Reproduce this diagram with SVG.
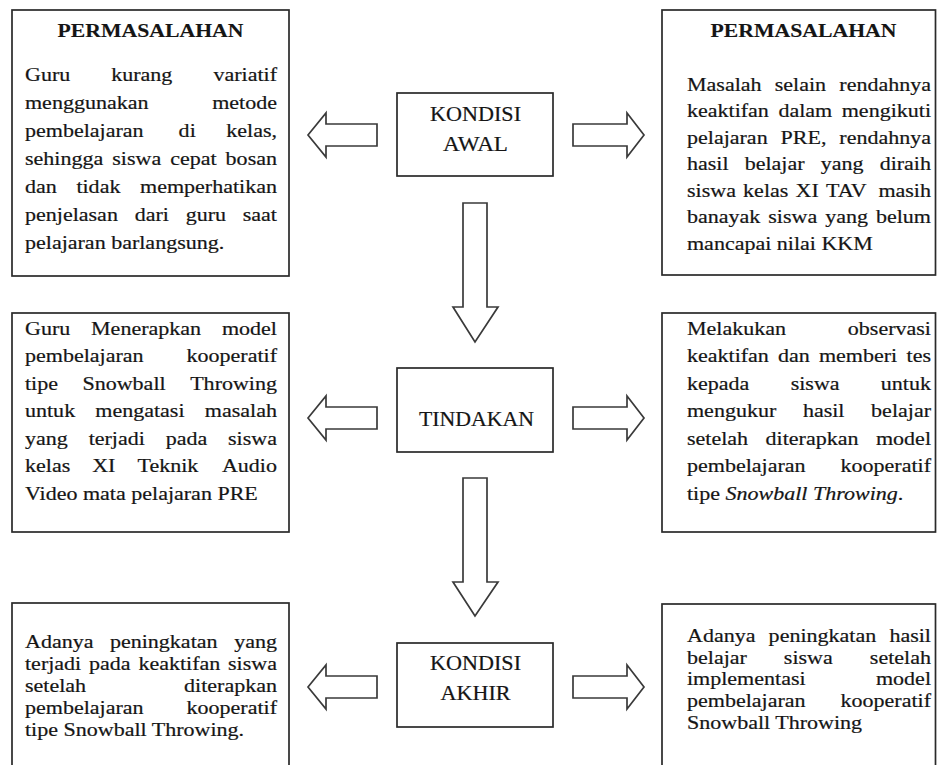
<svg xmlns="http://www.w3.org/2000/svg" width="937" height="765" viewBox="0 0 937 765">
<style>
.box{fill:#fff;stroke:#2a2a2a;stroke-width:1.7}
.arr{fill:#fff;stroke:#3a3a3a;stroke-width:1.7;stroke-linejoin:miter}
.t{font-family:"Liberation Serif","Times New Roman",serif;font-size:18.5px;fill:#151515;stroke:#151515;stroke-width:0.2}
.h{font-weight:bold;text-anchor:middle;stroke-width:0.1}
.c{font-family:"Liberation Serif","Times New Roman",serif;font-size:21px;fill:#151515;stroke:#151515;stroke-width:0.2;text-anchor:middle}
.e{text-anchor:end}
</style>
<rect width="937" height="765" fill="#fff"/>

<g id="connectors">
<polygon class="arr" points="308,135 326,113 326,124 377,124 377,146 326,146 326,157"/>
<polygon class="arr" points="573,124 627,124 627,113 644,135 627,157 627,146 573,146"/>
<polygon class="arr" points="463,203 487,203 487,307 498,307 475,342 453,307 463,307"/>
<polygon class="arr" points="308,418 326,396 326,407 377,407 377,429 326,429 326,440"/>
<polygon class="arr" points="573,407 627,407 627,396 644,418 627,440 627,429 573,429"/>
<polygon class="arr" points="463,478 487,478 487,582 498,582 475,616 453,582 463,582"/>
<polygon class="arr" points="308,687 326,665 326,676 377,676 377,698 326,698 326,709"/>
<polygon class="arr" points="573,676 627,676 627,665 644,687 627,709 627,698 573,698"/>
</g>

<g id="kondisi-awal">
<rect class="box" x="397" y="93" width="156" height="83"/>
<text class="c" x="475.5" y="121" textLength="91" lengthAdjust="spacingAndGlyphs">KONDISI</text>
<text class="c" x="475.5" y="151" textLength="65" lengthAdjust="spacingAndGlyphs">AWAL</text>
</g>

<g id="tindakan">
<rect class="box" x="397" y="368" width="156" height="84"/>
<text class="c" x="476.5" y="426" textLength="115" lengthAdjust="spacingAndGlyphs">TINDAKAN</text>
</g>

<g id="kondisi-akhir">
<rect class="box" x="397" y="643" width="156" height="84"/>
<text class="c" x="475.5" y="670" textLength="91" lengthAdjust="spacingAndGlyphs">KONDISI</text>
<text class="c" x="475.5" y="700" textLength="70" lengthAdjust="spacingAndGlyphs">AKHIR</text>
</g>

<g id="permasalahan-kiri">
<rect class="box" x="12" y="10" width="277" height="266"/>
<text class="t h" x="150.5" y="37" textLength="186" lengthAdjust="spacingAndGlyphs">PERMASALAHAN</text>
<g transform="translate(25 0) scale(1.19 1)">
<text class="t" y="81"><tspan x="0">Guru</tspan><tspan x="72.5">kurang</tspan><tspan class="e" x="211.76">variatif</tspan></text>
<text class="t" y="109"><tspan x="0">menggunakan</tspan><tspan class="e" x="211.76">metode</tspan></text>
<text class="t" y="137"><tspan x="0">pembelajaran</tspan><tspan x="129.1">di</tspan><tspan class="e" x="211.76">kelas,</tspan></text>
<text class="t" y="165"><tspan x="0">sehingga</tspan><tspan x="73.35">siswa</tspan><tspan x="122">cepat</tspan><tspan class="e" x="211.76">bosan</tspan></text>
<text class="t" y="193"><tspan x="0">dan</tspan><tspan x="43.2">tidak</tspan><tspan class="e" x="211.76">memperhatikan</tspan></text>
<text class="t" y="221"><tspan x="0">penjelasan</tspan><tspan x="92.15">dari</tspan><tspan x="135">guru</tspan><tspan class="e" x="211.76">saat</tspan></text>
<text class="t" x="0" y="249">pelajaran barlangsung.</text>
</g>
</g>

<g id="permasalahan-kanan">
<rect class="box" x="662" y="10" width="273.5" height="265"/>
<text class="t h" x="803.5" y="37" textLength="186" lengthAdjust="spacingAndGlyphs">PERMASALAHAN</text>
<g transform="translate(687 0) scale(1.19 1)">
<text class="t" y="91"><tspan x="0">Masalah</tspan><tspan x="73.7">selain</tspan><tspan class="e" x="205.04">rendahnya</tspan></text>
<text class="t" y="117.5"><tspan x="0">keaktifan</tspan><tspan x="76.8">dalam</tspan><tspan class="e" x="205.04">mengikuti</tspan></text>
<text class="t" y="144"><tspan x="0">pelajaran</tspan><tspan x="78.6">PRE,</tspan><tspan class="e" x="205.04">rendahnya</tspan></text>
<text class="t" y="170.5"><tspan x="0">hasil</tspan><tspan x="48.45">belajar</tspan><tspan x="112.3">yang</tspan><tspan class="e" x="205.04">diraih</tspan></text>
<text class="t" y="197"><tspan x="0">siswa</tspan><tspan x="47.16">kelas</tspan><tspan x="91.2">XI</tspan><tspan x="116.8">TAV</tspan><tspan class="e" x="205.04">masih</tspan></text>
<text class="t" y="223.5"><tspan x="0">banayak</tspan><tspan x="68.3">siswa</tspan><tspan x="116.1">yang</tspan><tspan class="e" x="205.04">belum</tspan></text>
<text class="t" x="0" y="250">mancapai nilai KKM</text>
</g>
</g>

<g id="tindakan-kiri">
<rect class="box" x="12" y="313" width="277" height="219"/>
<g transform="translate(25 0) scale(1.19 1)">
<text class="t" y="335"><tspan x="0">Guru</tspan><tspan x="55.5">Menerapkan</tspan><tspan class="e" x="211.76">model</tspan></text>
<text class="t" y="362.5"><tspan x="0">pembelajaran</tspan><tspan class="e" x="211.76">kooperatif</tspan></text>
<text class="t" y="390"><tspan x="0">tipe</tspan><tspan x="48.3">Snowball</tspan><tspan class="e" x="211.76">Throwing</tspan></text>
<text class="t" y="417.5"><tspan x="0">untuk</tspan><tspan x="59.1">mengatasi</tspan><tspan class="e" x="211.76">masalah</tspan></text>
<text class="t" y="445"><tspan x="0">yang</tspan><tspan x="53.5">terjadi</tspan><tspan x="118.3">pada</tspan><tspan class="e" x="211.76">siswa</tspan></text>
<text class="t" y="472.5"><tspan x="0">kelas</tspan><tspan x="56.5">XI</tspan><tspan x="94.6">Teknik</tspan><tspan class="e" x="211.76">Audio</tspan></text>
<text class="t" x="0" y="500">Video mata pelajaran PRE</text>
</g>
</g>

<g id="tindakan-kanan">
<rect class="box" x="662" y="313" width="273.5" height="219"/>
<g transform="translate(687 0) scale(1.19 1)">
<text class="t" y="335"><tspan x="0">Melakukan</tspan><tspan class="e" x="205.04">observasi</tspan></text>
<text class="t" y="362.5"><tspan x="0">keaktifan</tspan><tspan x="76.5">dan</tspan><tspan x="110.9">memberi</tspan><tspan class="e" x="205.04">tes</tspan></text>
<text class="t" y="390"><tspan x="0">kepada</tspan><tspan x="87.1">siswa</tspan><tspan class="e" x="205.04">untuk</tspan></text>
<text class="t" y="417.5"><tspan x="0">mengukur</tspan><tspan x="97.4">hasil</tspan><tspan class="e" x="205.04">belajar</tspan></text>
<text class="t" y="445"><tspan x="0">setelah</tspan><tspan x="66.05">diterapkan</tspan><tspan class="e" x="205.04">model</tspan></text>
<text class="t" y="472.5"><tspan x="0">pembelajaran</tspan><tspan class="e" x="205.04">kooperatif</tspan></text>
<text class="t" x="0" y="500">tipe <tspan font-style="italic">Snowball Throwing</tspan>.</text>
</g>
</g>

<g id="akhir-kiri">
<rect class="box" x="12" y="603" width="277" height="180"/>
<g transform="translate(25 0) scale(1.19 1)">
<text class="t" y="648"><tspan x="0">Adanya</tspan><tspan x="71.4">peningkatan</tspan><tspan class="e" x="211.76">yang</tspan></text>
<text class="t" y="670"><tspan x="0">terjadi</tspan><tspan x="53.85">pada</tspan><tspan x="95.3">keaktifan</tspan><tspan class="e" x="211.76">siswa</tspan></text>
<text class="t" y="692"><tspan x="0">setelah</tspan><tspan class="e" x="211.76">diterapkan</tspan></text>
<text class="t" y="714"><tspan x="0">pembelajaran</tspan><tspan class="e" x="211.76">kooperatif</tspan></text>
<text class="t" x="0" y="736">tipe Snowball Throwing.</text>
</g>
</g>

<g id="akhir-kanan">
<rect class="box" x="662" y="604" width="273.5" height="180"/>
<g transform="translate(687 0) scale(1.19 1)">
<text class="t" y="642"><tspan x="0">Adanya</tspan><tspan x="68.6">peningkatan</tspan><tspan class="e" x="205.04">hasil</tspan></text>
<text class="t" y="664"><tspan x="0">belajar</tspan><tspan x="81.4">siswa</tspan><tspan class="e" x="205.04">setelah</tspan></text>
<text class="t" y="685.5"><tspan x="0">implementasi</tspan><tspan class="e" x="205.04">model</tspan></text>
<text class="t" y="707"><tspan x="0">pembelajaran</tspan><tspan class="e" x="205.04">kooperatif</tspan></text>
<text class="t" x="0" y="729">Snowball Throwing</text>
</g>
</g>
</svg>
